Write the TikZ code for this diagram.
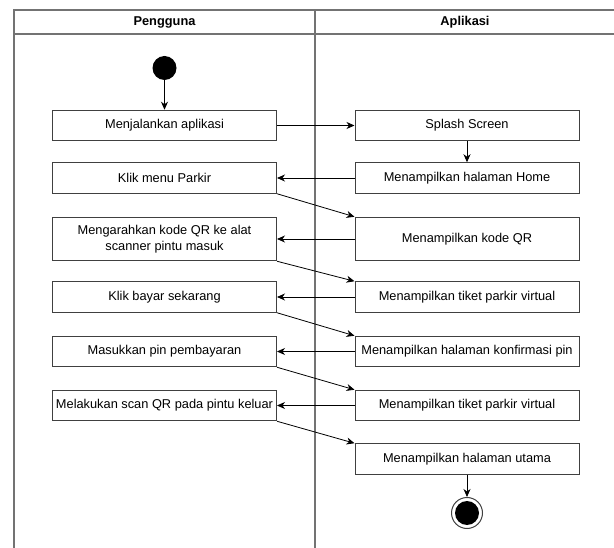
\documentclass[tikz,border=0pt]{standalone}
\usepackage{fontspec}
\setmainfont{Liberation Sans}
\usetikzlibrary{arrows.meta}
\tikzset{
  pool/.style={draw=black!55, line width=1.1pt},
  act/.style={draw=black!75, line width=1pt, fill=white, rectangle, minimum width=224pt, minimum height=30.5pt, inner sep=0pt, align=center, font=\fontsize{12.8}{15.6}\selectfont},
  tallact/.style={act, minimum height=43.5pt},
  head/.style={font=\fontsize{12.8}{15}\selectfont\bfseries, inner sep=0pt},
  flow/.style={draw=black, line width=0.8pt, -{Stealth[length=8pt,width=7pt,inset=2.5pt]}},
}
\begin{document}
\begin{tikzpicture}[x=1pt,y=-1pt]
\useasboundingbox (0,0) rectangle (614,548);
% swimlane frame
\draw[pool] (14,548) -- (14,10) -- (630,10);
\draw[pool] (14,34) -- (630,34);
\draw[pool] (315,10) -- (315,548);
\node[head] (hU) at (164.5,22) {Pengguna};
\node[head] (hA) at (465,22) {Aplikasi};
% start
\node[circle, fill=black, minimum size=24pt, inner sep=0pt] (start) at (164.5,68) {};
% left lane
\node[act] (l1) at (164.5,125.5) {Menjalankan aplikasi};
\node[act] (l2) at (164.5,178) {Klik menu Parkir};
\node[tallact] (l3) at (164.5,239) {Mengarahkan kode QR ke alat\\scanner pintu masuk};
\node[act] (l4) at (164.5,297) {Klik bayar sekarang};
\node[act] (l5) at (164.5,351.5) {Masukkan pin pembayaran};
\node[act] (l6) at (164.5,405.5) {Melakukan scan QR pada pintu keluar};
% right lane
\node[act] (r1) at (467,125.5) {Splash Screen};
\node[act] (r2) at (467,178) {Menampilkan halaman Home};
\node[tallact] (r3) at (467,239) {Menampilkan kode QR};
\node[act] (r4) at (467,297) {Menampilkan tiket parkir virtual};
\node[act] (r5) at (467,351.5) {Menampilkan halaman konfirmasi pin};
\node[act] (r6) at (467,405.5) {Menampilkan tiket parkir virtual};
\node[act] (r7) at (467,459) {Menampilkan halaman utama};
% end
\node[circle, draw=black!75, line width=1pt, minimum size=31pt, inner sep=0pt] (end) at (467,513) {};
\node[circle, fill=black, minimum size=24pt, inner sep=0pt] (endin) at (end.center) {};
% flows
\draw[flow] (start) -- (l1);
\draw[flow] (l1) -- (r1);
\draw[flow] (r1) -- (r2);
\draw[flow] (r2) -- (l2);
\draw[flow] (l2.south east) -- (r3.north west);
\draw[flow] (r3) -- (l3);
\draw[flow] (l3.south east) -- (r4.north west);
\draw[flow] (r4) -- (l4);
\draw[flow] (l4.south east) -- (r5.north west);
\draw[flow] (r5) -- (l5);
\draw[flow] (l5.south east) -- (r6.north west);
\draw[flow] (r6) -- (l6);
\draw[flow] (l6.south east) -- (r7.north west);
\draw[flow] (r7) -- (end);
\end{tikzpicture}
\end{document}
